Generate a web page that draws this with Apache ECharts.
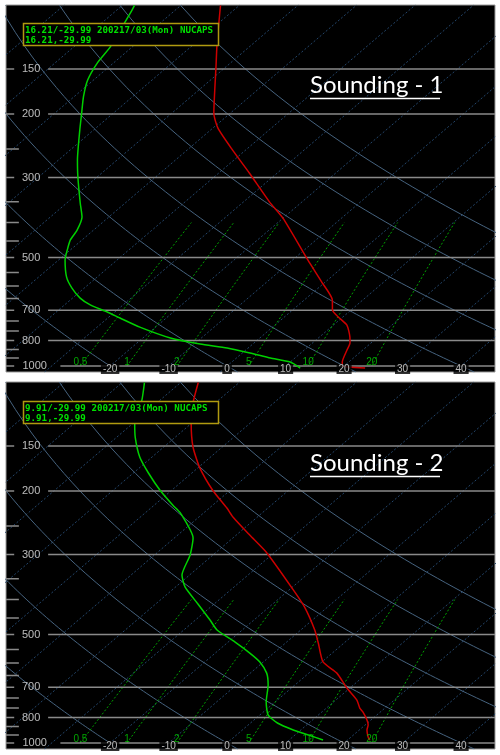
<!DOCTYPE html>
<html>
<head>
<meta charset="utf-8">
<script src="https://cdn.jsdelivr.net/npm/echarts@6/dist/echarts.min.js"></script>
<style>
    html, body { margin: 0; padding: 0; background: #fff; }
    #chart { width: 500px; height: 755px; }
</style>
</head>
<body>
<div id="chart"></div>
<script>
// 等压线 (hPa) 及其标注
const isobarLevels = [150, 200, 300, 500, 700, 850, 1000];
const isobarLabels = ['150', '200', '300', '500', '700', '800', '1000'];
const minorLevels = [250, 350, 400, 450, 550, 600, 650, 750, 800, 900, 950];
// 底部温度刻度
const tempTicks = [-20, -10, 0, 10, 20, 30, 40];
// 背景线
const isothermTemps = [-120, -110, -100, -90, -80, -70, -60, -50, -40, -30, -20, -10, 0, 10, 20, 30, 40];
const dryAdiabatThetas = [-20, 0, 20, 40, 60, 80, 100];
const mixingRatios = [0.5, 1, 2, 5, 10, 20];
const mixingLabels = ['0.5', '1', '2', '5', '10', '20'];

// Sounding 1
const s1TempPres = [100, 127, 148, 199, 219, 252, 292, 351, 389, 508, 585, 656, 699, 731, 770, 831, 863, 903, 975, 1000, 1013];
const s1Temp = [-73.2, -66.3, -61.7, -52.8, -49.1, -42.2, -34.7, -25.5, -20.0, -7.4, -0.6, 4.8, 6.8, 9.2, 12.3, 15.2, 16.4, 17.3, 18.9, 19.7, 24.0];
const s1DewPres = [100, 103, 130, 144, 161, 179, 199, 222, 268, 299, 353, 386, 420, 447, 477, 508, 567, 608, 648, 677, 708, 736, 780, 836, 869, 891, 920, 950, 975, 1013];
const s1Dew = [-87.9, -87.4, -83.8, -82.8, -81.0, -78.4, -75.4, -72.3, -66.8, -63.3, -57.7, -54.6, -52.8, -52.0, -50.5, -48.9, -45.2, -42.1, -38.7, -35.6, -31.3, -27.9, -22.7, -15.3, -9.0, -3.6, 1.3, 5.8, 10.0, 12.9];

// Sounding 2
const s2TempPres = [100, 114, 130, 151, 172, 199, 223, 236, 265, 297, 376, 420, 486, 528, 596, 640, 704, 760, 800, 820, 863, 891, 920, 962, 981];
const s2Temp = [-77.0, -73.8, -70.0, -65.0, -59.8, -53.0, -47.0, -44.2, -37.7, -31.2, -19.3, -13.9, -7.6, -4.4, 0.2, 4.8, 9.5, 13.6, 15.7, 17.0, 19.3, 20.5, 21.3, 22.9, 23.8];
const s2DewPres = [100, 112, 129, 142, 161, 178, 199, 219, 230, 270, 301, 342, 369, 409, 456, 486, 525, 563, 596, 640, 690, 770, 836, 880, 920, 950, 981];
const s2Dew = [-86.2, -83.1, -79.9, -76.8, -72.1, -67.5, -62.0, -56.8, -54.0, -46.8, -43.9, -41.3, -38.4, -33.1, -27.5, -24.3, -18.8, -14.1, -10.6, -7.2, -4.6, -1.5, 1.4, 4.6, 8.7, 12.3, 15.8];

const SKEW = 31.3;          // °C per ln(p) unit
const X_MIN = -37.8, X_MAX = 45.8;
const P_TOP = 99.7, P_BOT = 1039;

const skewX = (t, p) => t + SKEW * Math.log(1000 / p);
const lnp = (p) => Math.log(p);

// 露点 (Magnus)
function dewFromMix(w, p) {
    const e = w * p / (622 + w);
    const g = Math.log(e / 6.112);
    return 243.5 * g / (17.67 - g);
}

function line(gi, data, color, width, type, z, smooth) {
    return {
        type: 'line', xAxisIndex: gi, yAxisIndex: gi, data: data,
        symbol: 'none', silent: true, smooth: smooth || false,
        lineStyle: { color: color, width: width, type: type },
        z: z
    };
}

function labels(gi, data, color, fontSize, offset, bg) {
    return {
        type: 'scatter', xAxisIndex: gi, yAxisIndex: gi, data: data,
        symbolSize: 0, silent: true, z: 20,
        label: {
            show: true, position: 'inside', offset: offset,
            formatter: (p) => p.value[2],
            color: color, fontSize: fontSize, fontFamily: 'Liberation Sans',
            backgroundColor: bg || 'transparent', padding: [0, 2]
        }
    };
}

function panelSeries(gi, tPres, temps, dPres, dews) {
    const out = [];
    // 等温线
    isothermTemps.forEach((t) => {
        out.push(line(gi, [[skewX(t, P_BOT), lnp(P_BOT)], [skewX(t, P_TOP), lnp(P_TOP)]], '#23456a', 1, [2, 2], 2));
    });
    // 干绝热线
    dryAdiabatThetas.forEach((th) => {
        const pts = [];
        for (let p = P_BOT; p >= P_TOP - 1; p -= 10) {
            const pp = Math.max(p, P_TOP);
            const t = (th + 273.15) * Math.pow(pp / 1000, 0.286) - 273.15;
            pts.push([skewX(t, pp), lnp(pp)]);
        }
        out.push(line(gi, pts, '#46637f', 1, 'solid', 3));
    });
    // 混合比线
    mixingRatios.forEach((w) => {
        const pts = [];
        for (let p = 1000; p >= 400; p -= 50) {
            pts.push([skewX(dewFromMix(w, p), p), lnp(p)]);
        }
        out.push(line(gi, pts, '#00a000', 1, [2, 2], 4));
    });
    // 等压线
    isobarLevels.forEach((p, i) => {
        const x0 = p === 1000 ? -28.5 : -30.6;
        out.push(line(gi, [[x0, lnp(p)], [X_MAX, lnp(p)]], '#8a8a8a', 1.5, 'solid', 5));
        out.push(line(gi, [[X_MIN, lnp(p)], [X_MIN + 1.4, lnp(p)]], '#8a8a8a', 1.5, 'solid', 5));
    });
    minorLevels.forEach((p) => {
        out.push(line(gi, [[X_MIN, lnp(p)], [X_MIN + 2.2, lnp(p)]], '#8a8a8a', 1.5, 'solid', 5));
    });
    // 温度、露点廓线
    out.push(line(gi, tPres.map((p, i) => [skewX(temps[i], p), lnp(p)]), '#cc0000', 1.5, 'solid', 10, 0.2));
    out.push(line(gi, dPres.map((p, i) => [skewX(dews[i], p), lnp(p)]), '#00d000', 1.5, 'solid', 11, 0.2));
    // 标注
    out.push(labels(gi, isobarLevels.map((p, i) => [-33.5 + (isobarLabels[i].length > 3 ? 0.6 : 0), lnp(p), isobarLabels[i]]),
        '#e6e6e6', 11, [0, 0]));
    out.push(labels(gi, tempTicks.map((t) => [t, lnp(1000), String(t)]), '#e6e6e6', 10, [0, 3], '#000'));
    out.push(labels(gi, mixingRatios.map((w, i) => [dewFromMix(w, 1000), lnp(1000), mixingLabels[i]]), '#00d000', 10, [0, -4]));
    return out;
}

const chartDom = document.getElementById('chart');
const chart = echarts.init(chartDom);

const grids = [
    { left: 6, top: 5, width: 489, height: 367 },
    { left: 6, top: 382, width: 489, height: 367 }
].map((g) => Object.assign(g, { show: true, backgroundColor: '#000', borderColor: '#9a9a9a', borderWidth: 1 }));

const axisX = (gi) => ({ type: 'value', gridIndex: gi, min: X_MIN, max: X_MAX, show: false });
const axisY = (gi) => ({ type: 'value', gridIndex: gi, min: lnp(P_TOP), max: lnp(P_BOT), inverse: true, show: false });

function header(y0, info, title) {
    return [
        { type: 'rect', z: 100, shape: { x: 23.5, y: y0 + 0.5, width: 195, height: 22 },
          style: { fill: '#000', stroke: '#b09a10', lineWidth: 1.5 } },
        { type: 'text', z: 101, x: 25, y: y0 + 3,
          style: { text: info, fill: '#00e000', font: 'bold 9.2px "DejaVu Sans Mono"', lineHeight: 10 } },
        { type: 'text', z: 101, x: 310, y: y0 + 62,
          style: { text: title, fill: '#ffffff', font: '24px Lato', textVerticalAlign: 'middle' } },
        { type: 'line', z: 101, shape: { x1: 310, y1: y0 + 75.5, x2: 440, y2: y0 + 75.5 },
          style: { stroke: '#ffffff', lineWidth: 1.5 } }
    ];
}

const option = {
    animation: false,
    backgroundColor: '#fff',
    grid: grids,
    xAxis: [axisX(0), axisX(1)],
    yAxis: [axisY(0), axisY(1)],
    series: panelSeries(0, s1TempPres, s1Temp, s1DewPres, s1Dew)
        .concat(panelSeries(1, s2TempPres, s2Temp, s2DewPres, s2Dew)),
    graphic: header(23, '16.21/-29.99 200217/03(Mon) NUCAPS\n16.21,-29.99', 'Sounding - 1')
        .concat(header(401, '9.91/-29.99 200217/03(Mon) NUCAPS\n9.91,-29.99', 'Sounding - 2'))
};

chart.setOption(option);
</script>
</body>
</html>
